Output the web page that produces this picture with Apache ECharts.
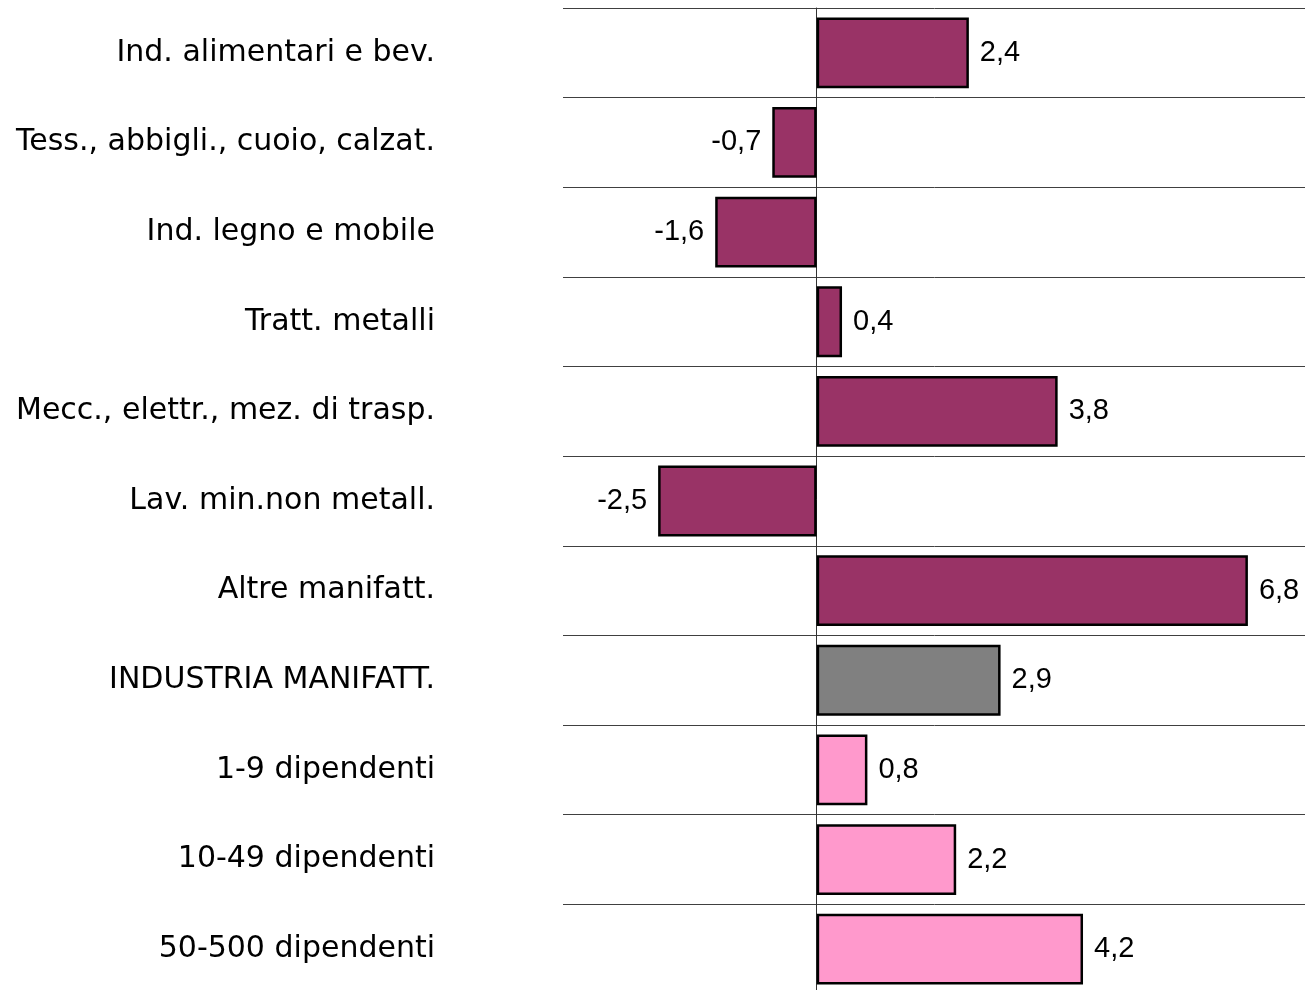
<!DOCTYPE html>
<html>
<head>
<meta charset="utf-8">
<script src="https://cdn.jsdelivr.net/npm/echarts@6/dist/echarts.min.js"></script>
<style>
	html, body { margin: 0; padding: 0; background: #fff; }
	#chart { width: 1305px; height: 990px; }
</style>
</head>
<body>
<div id="chart"></div>
<script>
// settori
const sectorNames = [
	"Ind. alimentari e bev.",
	"Tess., abbigli., cuoio, calzat.",
	"Ind. legno e mobile",
	"Tratt. metalli",
	"Mecc., elettr., mez. di trasp.",
	"Lav. min.non metall.",
	"Altre manifatt."
];
const sectorValues = [2.4, -0.7, -1.6, 0.4, 3.8, -2.5, 6.8];

// totale
const totalNames = ["INDUSTRIA MANIFATT."];
const totalValues = [2.9];

// classi dimensionali
const sizeNames = ["1-9 dipendenti", "10-49 dipendenti", "50-500 dipendenti"];
const sizeValues = [0.8, 2.2, 4.2];

const groupColors = ["#993366", "#808080", "#FF99CC"];

const categories = [];
const items = [];
[[sectorNames, sectorValues], [totalNames, totalValues], [sizeNames, sizeValues]].forEach((g, gi) => {
	g[0].forEach((name, i) => {
		const v = g[1][i];
		categories.push(name);
		items.push({
			value: v,
			itemStyle: { color: groupColors[gi] },
			label: { position: v < 0 ? "left" : "right" }
		});
	});
});

const chart = echarts.init(document.getElementById("chart"));

const option = {
	animation: false,
	backgroundColor: "#fff",
	grid: {
		left: 563,
		right: -19,
		top: 8,
		bottom: -4,
		containLabel: false,
		outerBoundsMode: "none"
	},
	xAxis: {
		type: "value",
		min: -4,
		max: 8,
		show: false,
		splitLine: { show: false }
	},
	yAxis: [
		{
			// etichette a sinistra + linee orizzontali
			type: "category",
			inverse: true,
			data: categories,
			position: "left",
			axisLine: { show: false, onZero: false },
			axisTick: { show: false },
			splitLine: {
				show: true,
				interval: 0,
				lineStyle: { color: "#404040", width: 1 }
			},
			axisLabel: {
				interval: 0,
				margin: 128,
				color: "#000",
				fontFamily: "DejaVu Sans",
				fontSize: 30
			}
		},
		{
			// asse dello zero
			type: "category",
			inverse: true,
			data: categories,
			position: "left",
			axisLine: { show: true, onZero: true, lineStyle: { color: "#333", width: 1 } },
			axisTick: { show: false },
			axisLabel: { show: false },
			splitLine: { show: false }
		}
	],
	series: [
		{
			type: "bar",
			yAxisIndex: 0,
			barWidth: "79%",
			data: items,
			itemStyle: { borderColor: "#000", borderWidth: 2.5 },
			label: {
				show: true,
				distance: 11,
				color: "#000",
				fontFamily: "Liberation Sans, Arial, sans-serif",
				fontSize: 29,
				formatter: p => p.value.toFixed(1).replace(".", ",")
			}
		}
	]
};

option && chart.setOption(option);
</script>
</body>
</html>
